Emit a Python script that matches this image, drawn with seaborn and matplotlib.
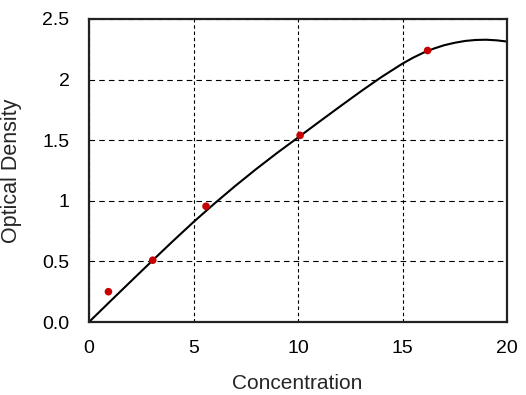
import matplotlib
matplotlib.use("Agg")
import matplotlib.pyplot as plt
import seaborn as sns

# measured standards (red dots)
conc = [0.93, 3.05, 5.6, 10.1, 16.2]
od = [0.25, 0.51, 0.955, 1.54, 2.24]

# fitted curve
curve_x = [0, 1, 2, 3, 4, 5, 6, 7, 8, 9, 10, 11, 12, 13, 14, 15,
           15.5, 16, 16.5, 17, 17.5, 18, 18.5, 19, 19.5, 20]
curve_y = [0, 0.168, 0.335, 0.501, 0.665, 0.825, 0.977, 1.123, 1.262, 1.395, 1.522,
           1.650, 1.777, 1.902, 2.022, 2.132,
           2.180, 2.222, 2.256, 2.284, 2.304, 2.319, 2.327, 2.329, 2.324, 2.314]

x_ticks = [0, 5, 10, 15, 20]
y_ticks = [0, 0.5, 1, 1.5, 2, 2.5]
y_tick_labels = ["0.0", "0.5", "1", "1.5", "2", "2.5"]

sns.set_style("white")
plt.rcParams['font.family'] = ['Liberation Sans', 'DejaVu Sans']
plt.rcParams['lines.scale_dashes'] = False

fig = plt.figure(figsize=(5.26, 3.95), dpi=100)
ax = fig.add_axes([0.1692, 0.1848, 0.7947, 0.7671])

sns.lineplot(x=curve_x, y=curve_y, ax=ax, color="black", linewidth=1.5, sort=False)
sns.scatterplot(x=conc, y=od, ax=ax, color="#c80000", s=30, edgecolor="none", zorder=3)

ax.set_xlim(0, 20)
ax.set_ylim(0, 2.5)
ax.set_xticks(x_ticks)
ax.set_yticks(y_ticks)
ax.set_yticklabels(y_tick_labels)
ax.tick_params(axis="both", length=0, labelsize=14, colors="black")
ax.tick_params(axis="x", pad=13)
ax.tick_params(axis="y", pad=14)

ax.xaxis.grid(True, color="black", linewidth=0.8, dashes=(2.5, 2))
ax.yaxis.grid(True, color="black", linewidth=0.8, dashes=(4, 3))
ax.set_axisbelow(True)

for s in ax.spines.values():
    s.set_visible(True)
    s.set_color("#222222")
    s.set_linewidth(1.6)

ax.set_xlabel("Concentration", fontsize=15)
ax.set_ylabel("Optical Density", fontsize=15.5)
ax.xaxis.set_label_coords(0.498, -0.172)
ax.yaxis.set_label_coords(-0.16, 0.5)

fig.savefig("out.png", dpi=100)
